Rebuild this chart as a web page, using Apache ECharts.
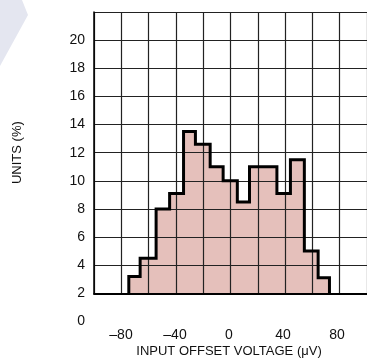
<!DOCTYPE html>
<html><head><meta charset="utf-8">
<script src="https://cdn.jsdelivr.net/npm/echarts@6/dist/echarts.min.js"></script>
<style>html,body{margin:0;padding:0;background:#fff}#c{width:367px;height:362px}</style>
</head><body><div id="c"></div>
<script>
// Histogram bin edges (µV) and heights (% of units)
var binEdges = [-74.5, -66.2, -54.5, -44.6, -34.4, -25.7, -14.9, -5.4, 5.0, 13.9, 34.0, 43.9, 54.1, 64.2, 72.5];
var units = [3.2, 4.5, 8.0, 9.1, 13.5, 12.6, 11.0, 10.0, 8.5, 11.0, 9.1, 11.5, 5.0, 3.1];
var yTicks = [0, 2, 4, 6, 8, 10, 12, 14, 16, 18, 20];
var xTicks = [-80, -40, 0, 40, 80];
var xTitle = 'INPUT OFFSET VOLTAGE (\u03bcV)';
var yTitle = 'UNITS (%)';

var base = 2;
var outline = [[binEdges[0], base]];
for (var i = 0; i < units.length; i++) {
  outline.push([binEdges[i], units[i]]);
  outline.push([binEdges[i + 1], units[i]]);
}
outline.push([binEdges[binEdges.length - 1], base]);

var FONT = "'Liberation Sans Narrow', 'Liberation Sans', Arial, sans-serif";
function fmtNum(v) { return v < 0 ? '\u2013' + Math.abs(v) : String(v); }

var chart = echarts.init(document.getElementById('c'), null, {renderer: 'canvas'});
chart.setOption({
  animation: false,
  graphic: [{
    type: 'polygon', z: -10, silent: true,
    shape: {points: [[0, 0], [22, 0], [28, 15], [0, 66]]},
    style: {fill: '#e4e6f0'}
  }],
  grid: [
    {left: 94, top: 12, width: 283, height: 281.3},
    {left: 94, top: 293.3, width: 283, height: 28}
  ],
  xAxis: [
    {gridIndex: 0, type: 'value', min: -100, max: 100, interval: 20,
      axisLine: {show: true, onZero: false, lineStyle: {color: '#000', width: 2}},
      axisTick: {show: false}, axisLabel: {show: false},
      splitLine: {show: true, lineStyle: {color: '#222', width: 1.2}}},
    {gridIndex: 1, type: 'value', min: -100, max: 100, interval: 20,
      axisLine: {show: false, onZero: false}, axisTick: {show: false}, splitLine: {show: false},
      axisLabel: {show: true, margin: 7, color: '#111', fontFamily: FONT, fontSize: 14,
        formatter: function (v) { return xTicks.indexOf(v) >= 0 ? fmtNum(v) : ''; }},
      name: xTitle, nameLocation: 'middle', nameGap: 24,
      nameTextStyle: {color: '#111', fontFamily: FONT, fontSize: 13}}
  ],
  yAxis: [
    {gridIndex: 0, type: 'value', min: 2, max: 22, interval: 2,
      axisLine: {show: true, onZero: false, lineStyle: {color: '#000', width: 1.5}},
      axisTick: {show: false},
      axisLabel: {show: true, margin: 9, color: '#111', fontFamily: FONT, fontSize: 14,
        formatter: function (v) { return (yTicks.indexOf(v) >= 0 && v !== 0) ? String(v) : ''; }},
      splitLine: {show: true, lineStyle: {color: '#222', width: 1.2}},
      name: yTitle, nameLocation: 'middle', nameRotate: 90, nameGap: 70,
      nameTextStyle: {color: '#111', fontFamily: FONT, fontSize: 13}},
    {gridIndex: 1, type: 'value', min: 0, max: 2, interval: 2,
      axisLine: {show: false, onZero: false}, axisTick: {show: false}, splitLine: {show: false},
      axisLabel: {show: true, margin: 9, color: '#111', fontFamily: FONT, fontSize: 14,
        formatter: function (v) { return v === yTicks[0] ? String(v) : ''; }}}
  ],
  series: [
    {type: 'line', xAxisIndex: 0, yAxisIndex: 0, data: outline, z: -1,
      symbol: 'none', silent: true,
      lineStyle: {width: 0},
      areaStyle: {color: '#e5c0bb', opacity: 1, origin: 'start'}},
    {type: 'line', xAxisIndex: 0, yAxisIndex: 0, data: outline, z: 5,
      symbol: 'none', silent: true,
      lineStyle: {width: 3, color: '#000', join: 'miter'}}
  ]
});
</script></body></html>
